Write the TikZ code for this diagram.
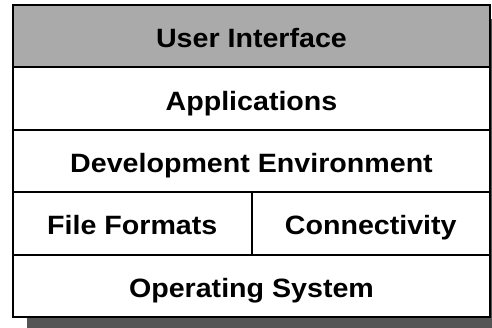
\documentclass[tikz,border=0pt]{standalone}
\usepackage{fontspec}
\setmainfont{Liberation Sans}
\newfontfamily\widesans[FakeStretch=1.08]{Liberation Sans}
\definecolor{uigray}{HTML}{AAAAAA}
\definecolor{shadowgray}{HTML}{555555}
\tikzset{
  cell/.style={draw=black, line width=2pt, minimum height=62.4pt, inner sep=0pt, outer sep=0pt,
    text height=23pt, text depth=0pt,
    font=\widesans\fontsize{26.5}{30}\selectfont\bfseries, text=black},
  fullcell/.style={cell, minimum width=477pt},
  halfcell/.style={cell, minimum width=238.5pt},
}
\begin{document}
\begin{tikzpicture}[x=1pt,y=-1pt]
\useasboundingbox (0,0) rectangle (492,327);
\fill[shadowgray] (27,19) rectangle (510,340);
\node[fullcell, fill=uigray] (ui) at (251.5,36.2) {User Interface};
\node[fullcell, fill=white] (apps) at (251.5,98.6) {Applications};
\node[fullcell, fill=white] (dev) at (251.5,161) {Development Environment};
\node[halfcell, fill=white] (ff) at (132.25,223.4) {File Formats};
\node[halfcell, fill=white] (conn) at (370.75,223.4) {Connectivity};
\node[fullcell, fill=white] (os) at (251.5,285.8) {Operating System};
\end{tikzpicture}
\end{document}
